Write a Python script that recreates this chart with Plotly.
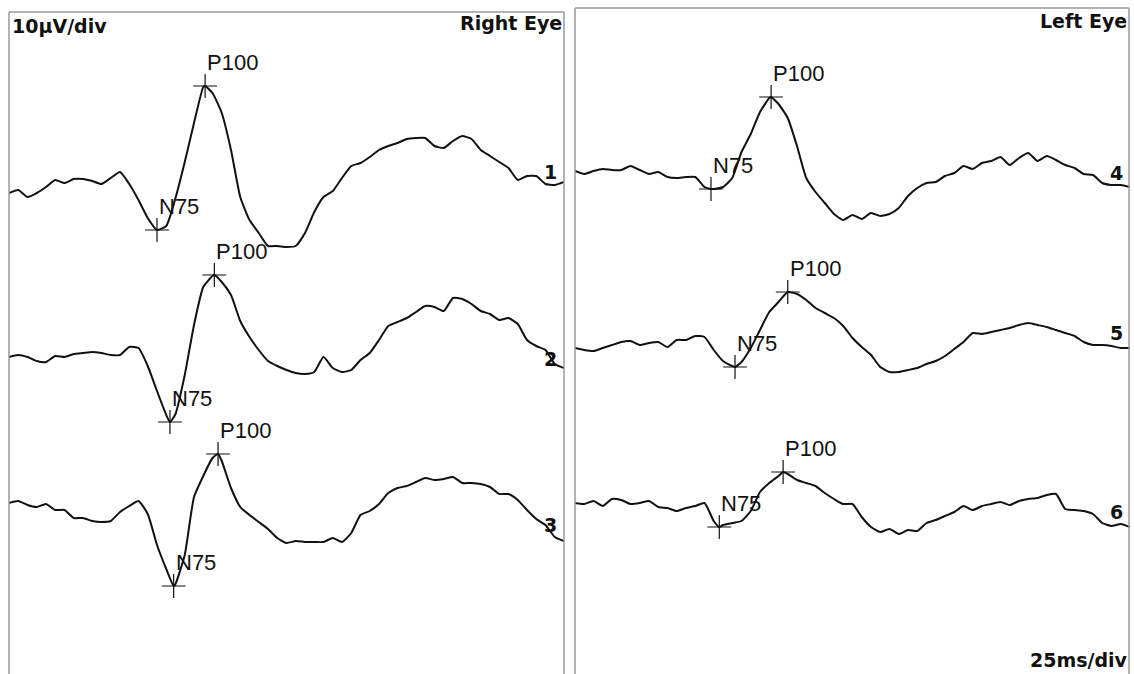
import plotly.graph_objects as go

# ---------------- data ----------------
TIME_MS = list(range(0, 301, 5))          # sweep time base (ms), 25 ms/div
TRACE_LABELS = ["1", "2", "3", "4", "5", "6"]
PANEL_TITLES = ["Right Eye", "Left Eye"]
TRACE_EYE = [0, 0, 0, 1, 1, 1]            # 0 = right eye panel, 1 = left eye panel

# amplitudes (µV) relative to each channel's own baseline
RE1 = [-0.6, 0, -1.4, -0.6, 0.6, 2.0, 1.4, 2.2, 2.2, 1.8,
       1.2, 2.4, 3.6, 1.2, -2.0, -5.6, -8.0, -7.2, -1.6, 5.6,
       13.4, 20.6, 19.4, 15.4, 8.0, -1.4, -6.0, -8.6, -11.2, -11.2,
       -11.4, -11.2, -8.6, -4.4, -1.4, -0.2, 2.4, 4.8, 5.4, 6.6,
       8.0, 8.8, 9.4, 10.2, 10.4, 10.4, 8.8, 8.4, 9.8, 10.8,
       10.2, 8.0, 6.8, 5.6, 4.4, 2.0, 2.8, 2.8, 1.2, 1.0, 1.6]
RE2 = [-0.4, 0, -0.4, -1.2, -1.4, -0.2, -0.4, 0.2, 0.4, 0.6,
       0.4, 0, 0, 1.6, 1.4, -2.2, -7.2, -12.0, -11.8, -4.0,
       6.0, 13.6, 15.8, 14.6, 12.0, 6.8, 3.6, 1.0, -1.2, -2.2,
       -3.0, -3.6, -3.8, -3.4, -0.4, -2.6, -3.4, -3.0, -1.0, 0.4,
       3.0, 5.8, 6.6, 7.4, 8.6, 9.8, 9.6, 8.8, 11.4, 11.2,
       10.2, 8.8, 8.2, 7.0, 7.4, 6.2, 3.0, 1.8, 1.0, -1.8, -2.6]
RE3 = [1.4, 1.8, 1.0, 0.6, 1.2, 0, 0, -1.6, -1.6, -2.2,
       -2.4, -2.2, -0.4, 0.8, 1.8, -0.8, -7.0, -11.8, -14.8, -9.0,
       2.6, 6.8, 10.4, 9.8, 4.4, 0.6, -1.0, -2.4, -3.8, -5.6,
       -6.6, -6.2, -6.4, -6.4, -6.4, -5.6, -6.4, -4.6, -1.0, -0.2,
       1.2, 3.4, 4.4, 4.8, 5.6, 6.4, 6.0, 6.2, 6.6, 5.4,
       5.4, 5.2, 4.6, 3.2, 3.2, 2.0, 0, -1.8, -3.0, -5.4, -6.2]
LE1 = [0.8, 0.2, 0.8, 1.2, 1.0, 1.0, 1.8, 1.0, 0.2, 0.6,
       -0.4, -0.6, -0.4, -0.4, -2.4, -2.8, -2.4, -0.6, 4.6, 8.2,
       12.6, 15.4, 14.2, 11.4, 5.8, -0.6, -3.4, -5.6, -7.8, -9.0,
       -8.0, -8.8, -7.6, -8.2, -7.8, -6.6, -4.2, -2.6, -1.6, -1.4,
       -0.2, 0.4, 1.8, 1.2, 2.4, 2.8, 3.6, 2.0, 3.4, 4.4,
       2.8, 3.8, 3.0, 2.0, 1.4, 0.2, 0, -1.6, -2.0, -2.0, -2.4]
LE2 = [0, -0.4, -0.6, 0, 0.6, 1.2, 1.4, 0.6, 1.0, 1.2,
       0.2, 1.6, 1.6, 2.4, 2.2, -0.4, -2.6, -3.6, -2.8, 0,
       3.6, 7.2, 9.2, 11.2, 10.8, 9.6, 8.0, 7.0, 6.0, 4.4,
       2.0, 0.2, -1.4, -3.8, -4.8, -4.8, -4.4, -4.0, -3.2, -2.6,
       -1.6, -0.2, 1.2, 3.0, 2.8, 3.2, 3.6, 4.0, 4.6, 5.0,
       4.6, 4.2, 3.6, 3.0, 2.4, 1.2, 0.6, 0.6, 0.4, 0, 0]
LE3 = [1.4, 1.2, 1.8, 0.8, 2.2, 2.0, 1.2, 1.4, 1.8, 0.6,
       0.4, -0.2, 0.4, 0.8, 1.4, -2.2, -3.0, -2.6, -2.2, -0.2,
       3.6, 5.4, 6.8, 7.2, 6.0, 5.4, 4.8, 3.4, 2.2, 1.2,
       1.2, -1.4, -3.4, -4.4, -3.8, -4.8, -4.0, -4.2, -2.6, -2.0,
       -1.2, -0.4, 0.8, 0, 0.8, 1.2, 1.6, 1.0, 1.8, 2.2,
       2.4, 3.0, 3.2, 0.2, 0, -0.2, -0.8, -2.6, -3.2, -2.8, -3.4]

N75_LAT = [80, 87, 89, 73.5, 86.5, 78]          # ms
N75_AMP = [-8.0, -13.4, -15.2, -2.8, -3.8, -3.4]  # µV
P100_LAT = [106, 111, 113, 106, 115, 112.5]     # ms
P100_AMP = [20.8, 16.0, 11.2, 15.6, 11.2, 7.6]  # µV

SERIES = [RE1, RE2, RE3, LE1, LE2, LE3]

# ---------------- layout helpers (positions / styles) ----------------
W, H = 1134, 674
CH_OFFSET = [-38.0, -71.0, -102.0, -35.0, -69.6, -102.0]   # vertical stacking of channels
Y_RANGE = [-134.8, 0]
LABEL_YSHIFT = [10, 9, 16, 14, 15, 15]
INK = "#111111"
BORDER = "#9a9a9a"

fig = go.Figure()
annotations = []
for i, amps in enumerate(SERIES):
    xa = "x" if TRACE_EYE[i] == 0 else "x2"
    ya = "y" if TRACE_EYE[i] == 0 else "y2"
    off = CH_OFFSET[i]
    pts = dict(zip(TIME_MS, amps))
    pts[N75_LAT[i]] = N75_AMP[i]
    pts[P100_LAT[i]] = P100_AMP[i]
    ts = sorted(pts)
    fig.add_trace(go.Scatter(
        x=ts, y=[pts[t] + off for t in ts], mode="lines",
        line=dict(color=INK, width=2, shape="spline", smoothing=0.5),
        xaxis=xa, yaxis=ya, showlegend=False, hoverinfo="skip"))
    fig.add_trace(go.Scatter(
        x=[N75_LAT[i], P100_LAT[i]], y=[N75_AMP[i] + off, P100_AMP[i] + off],
        mode="markers", marker=dict(symbol="cross-thin", size=17,
                                    line=dict(width=1.2, color=INK)),
        xaxis=xa, yaxis=ya, showlegend=False, hoverinfo="skip"))
    for name, lat, amp in (("N75", N75_LAT[i], N75_AMP[i]), ("P100", P100_LAT[i], P100_AMP[i])):
        annotations.append(dict(
            x=lat, y=amp + off, xref=xa, yref=ya, text=name, showarrow=False,
            xanchor="left", yanchor="bottom", xshift=0, yshift=9,
            font=dict(family="Liberation Sans, Arial", size=22, color=INK)))
    annotations.append(dict(
        x=TIME_MS[-1], y=amps[-1] + off, xref=xa, yref=ya, text=TRACE_LABELS[i],
        showarrow=False, xanchor="center", yanchor="middle",
        xshift=-14, yshift=LABEL_YSHIFT[i],
        font=dict(family="DejaVu Sans", size=19, color=INK, weight="bold")))

def px(x):
    return x / W

def py(y):
    return 1 - y / H

hdr = dict(family="DejaVu Sans", size=19, color=INK, weight="bold")
annotations += [
    dict(x=px(10), y=py(13), xref="paper", yref="paper", text="10µV/div",
         showarrow=False, xanchor="left", yanchor="top", font=hdr),
    dict(x=px(564), y=py(10), xref="paper", yref="paper", text=PANEL_TITLES[0],
         showarrow=False, xanchor="right", yanchor="top", font=hdr),
    dict(x=px(1129), y=py(8), xref="paper", yref="paper", text=PANEL_TITLES[1],
         showarrow=False, xanchor="right", yanchor="top", font=hdr),
    dict(x=px(1130), y=py(673), xref="paper", yref="paper", text="25ms/div",
         showarrow=False, xanchor="right", yanchor="bottom", font=hdr),
]

shapes = []
for (l, r, top) in ((9, 564, 12), (575, 1129, 8)):
    for (x0, y0, x1, y1) in ((l, top, l, H), (l, top, r, top), (r, top, r, H)):
        shapes.append(dict(type="line", xref="paper", yref="paper",
                           x0=px(x0), x1=px(x1), y0=py(y0), y1=py(y1),
                           line=dict(color=BORDER, width=1.5)))

ax = dict(visible=False, range=[0, 300], fixedrange=True)
fig.update_layout(
    width=W, height=H, margin=dict(l=0, r=0, t=0, b=0),
    paper_bgcolor="white", plot_bgcolor="white",
    xaxis=dict(ax, domain=[px(9), px(564)], anchor="y"),
    xaxis2=dict(ax, domain=[px(575), px(1130)], anchor="y2"),
    yaxis=dict(visible=False, range=Y_RANGE, domain=[0, 1], anchor="x"),
    yaxis2=dict(visible=False, range=Y_RANGE, domain=[0, 1], anchor="x2"),
    annotations=annotations, shapes=shapes, showlegend=False,
)
fig.write_html("out.html", config={"displayModeBar": False},
               post_script="document.body.style.margin='0';document.body.style.overflow='hidden';")
